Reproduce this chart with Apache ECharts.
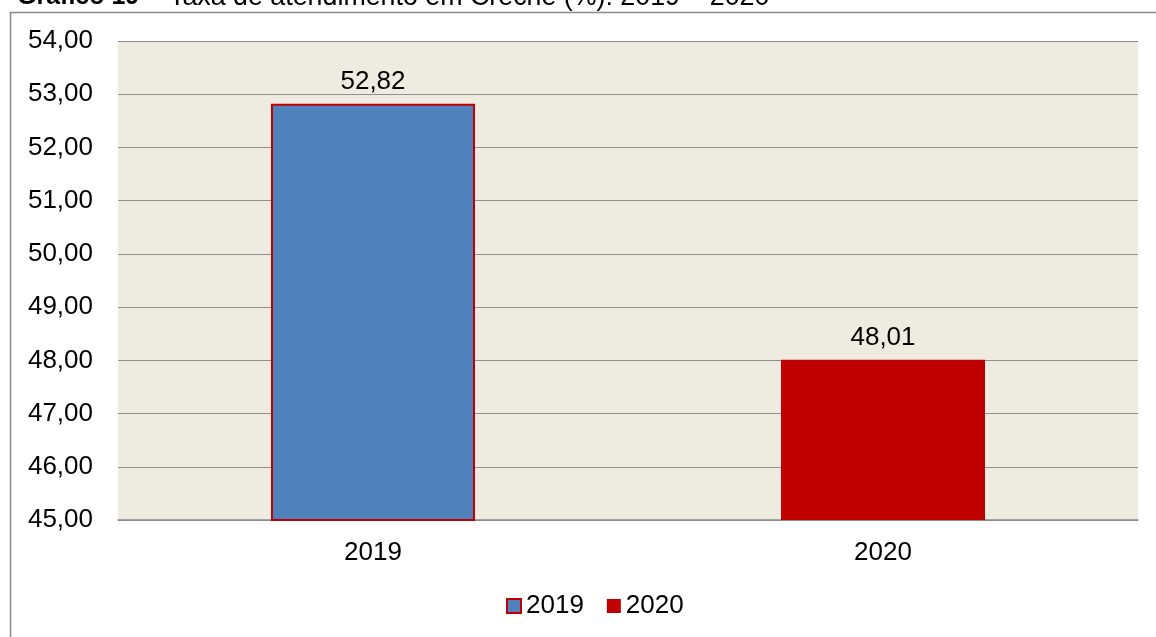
<!DOCTYPE html>
<html>
<head>
<meta charset="utf-8">
<script src="https://cdn.jsdelivr.net/npm/echarts@6/dist/echarts.min.js"></script>
<style>
html,body{margin:0;padding:0;background:#fff;}
#chart{width:1156px;height:637px;}
</style>
</head>
<body>
<div id="chart"></div>
<script>
const categories = ['2019', '2020'];
const values = [52.82, 48.01];
const seriesNames = ['2019', '2020'];
const yTicks = { min: 45, max: 54, interval: 1 };
const titleBold = 'Gráfico 19';
const titleRest = ' – Taxa de atendimento em Creche (%): 2019 – 2020';

const FONT = '"Liberation Sans", Arial, sans-serif';
const fmt = v => Number(v).toFixed(2).replace('.', ',');

const styles = [
  { color: '#4F81BD', borderColor: '#C00000', borderWidth: 2 },
  { color: '#C00000', borderColor: '#C00000', borderWidth: 0 }
];

const series = seriesNames.map((name, i) => ({
  name: name,
  type: 'bar',
  barWidth: '40%',
  barGap: '-100%',
  data: categories.map((c, j) => (j === i ? values[j] : '-')),
  itemStyle: styles[i],
  label: {
    show: true,
    position: 'top',
    distance: 9,
    color: '#000',
    fontFamily: FONT,
    fontSize: 26,
    formatter: p => fmt(p.value)
  }
}));

const chart = echarts.init(document.getElementById('chart'));
chart.setOption({
  animation: false,
  backgroundColor: '#fff',
  textStyle: { fontFamily: FONT },
  graphic: [
    {
      type: 'rect',
      silent: true,
      shape: { x: 10.5, y: 12.5, width: 1300, height: 800 },
      style: { fill: 'none', stroke: '#8a8a8a', lineWidth: 1.5 },
      z: -10
    },
    {
      type: 'text',
      left: 17,
      top: -16,
      style: {
        text: '{b|' + titleBold + '}{r|' + titleRest + '}',
        fontFamily: FONT,
        fontSize: 25,
        fill: '#000',
        rich: {
          b: { fontWeight: 'bold', fontSize: 25, fontFamily: FONT },
          r: { fontSize: 26.8, fontFamily: FONT }
        }
      }
    }
  ],
  grid: {
    left: 118,
    right: 18,
    top: 41,
    bottom: 117,
    show: true,
    backgroundColor: '#EEEBE0',
    borderWidth: 0
  },
  legend: {
    data: seriesNames,
    icon: 'rect',
    top: 593,
    left: 506,
    padding: 0,
    itemWidth: 14,
    itemHeight: 14,
    itemGap: 23,
    textStyle: { fontFamily: FONT, fontSize: 26, color: '#000' }
  },
  xAxis: {
    type: 'category',
    data: categories,
    axisLine: { show: true, lineStyle: { color: '#8c8c8c', width: 1.5 } },
    axisTick: { show: false },
    axisLabel: { color: '#000', fontFamily: FONT, fontSize: 26, margin: 20 }
  },
  yAxis: {
    type: 'value',
    min: yTicks.min,
    max: yTicks.max,
    interval: yTicks.interval,
    axisLine: { show: false },
    axisTick: { show: false },
    splitLine: { show: true, lineStyle: { color: '#8f8f8f', width: 1.2 } },
    axisLabel: { color: '#000', fontFamily: FONT, fontSize: 26, margin: 25, formatter: v => fmt(v) }
  },
  series: series
});
</script>
</body>
</html>
